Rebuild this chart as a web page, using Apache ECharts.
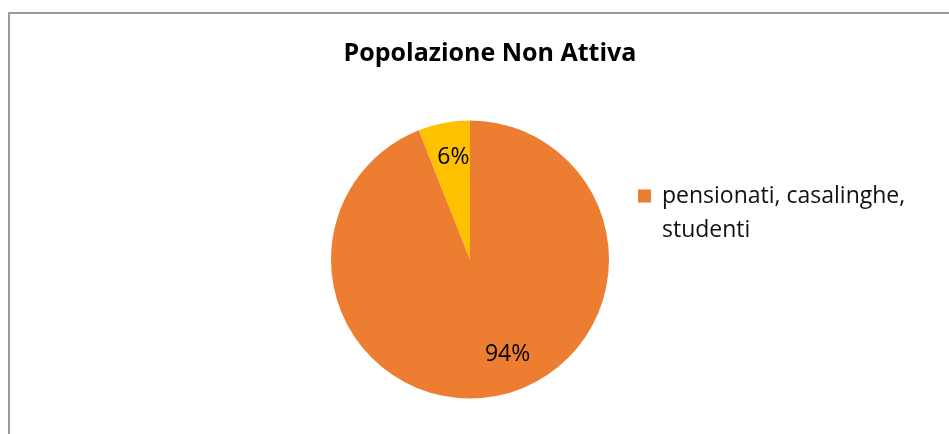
<!DOCTYPE html>
<html>
<head>
<meta charset="utf-8">
<script src="https://cdn.jsdelivr.net/npm/echarts@6/dist/echarts.min.js"></script>
<style>
html,body{margin:0;padding:0;background:#fff;overflow:hidden;}
#frame{position:absolute;left:8px;top:12px;width:1000px;height:600px;border:2px solid #999;box-sizing:border-box;}
#chart{position:absolute;left:0;top:0;width:949px;height:434px;}
</style>
</head>
<body>
<div id="frame"></div>
<div id="chart"></div>
<script>
const titleText = 'Popolazione Non Attiva';
const categories = ['pensionati, casalinghe, studenti', 'altro'];
const values = [94, 6];
const colors = ['#ED7D31', '#FFC000'];
const legendItems = ['pensionati, casalinghe, studenti'];

const chart = echarts.init(document.getElementById('chart'), null, {renderer: 'canvas'});
const labelOffsets = [{dx: 24, dy: 24}, {dx: -3, dy: -31}];
chart.setOption({
  backgroundColor: 'transparent',
  animation: false,
  title: {
    text: titleText,
    left: 485, top: 36, textAlign: 'center',
    textStyle: {fontFamily: 'Open Sans', fontWeight: 'bold', fontSize: 25, color: '#000', letterSpacing: -0.5}
  },
  legend: {
    data: legendItems,
    left: 633, top: 137,
    orient: 'vertical',
    icon: 'rect', itemWidth: 13, itemHeight: 13, itemGap: 10,
    formatter: function (name) { return ' \npensionati, casalinghe,\nstudenti'; },
    textStyle: {fontFamily: 'Open Sans', fontSize: 23, color: '#111', lineHeight: 34, padding: [6, 0, 0, 6]}
  },
  series: [{
    type: 'pie',
    center: [470, 259.5],
    radius: [0, 139],
    startAngle: 90,
    clockwise: true,
    silent: true,
    data: categories.map((c, i) => ({name: c, value: values[i], itemStyle: {color: colors[i]}})),
    label: {
      show: true, position: 'inside',
      formatter: p => Math.round(p.percent) + '%',
      fontFamily: 'Open Sans', fontSize: 23, color: '#000'
    },
    labelLayout: p => labelOffsets[p.dataIndex],
    labelLine: {show: false},
    emphasis: {disabled: true}
  }]
});
</script>
</body>
</html>
